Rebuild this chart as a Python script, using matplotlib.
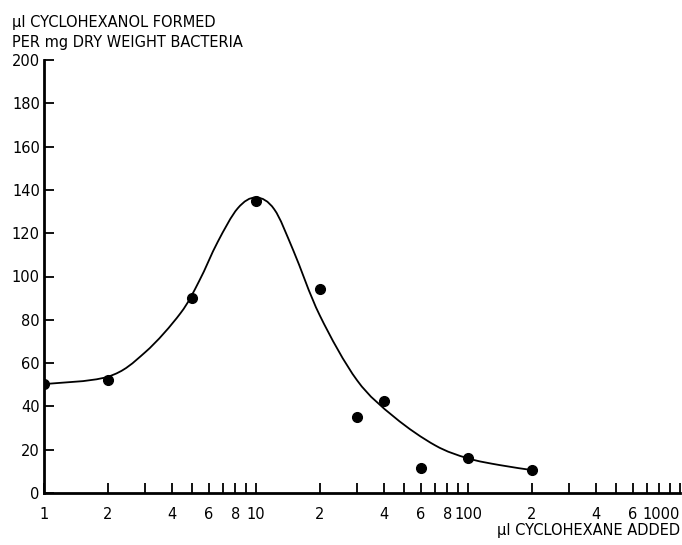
import matplotlib
matplotlib.use("Agg")
import numpy as np
import matplotlib.pyplot as plt
from matplotlib.path import Path
from matplotlib.patches import PathPatch
from matplotlib.ticker import FixedLocator, FixedFormatter, NullLocator

# measured data points
pts_x = [1, 2, 5, 10, 20, 30, 40, 60, 100, 200]
pts_y = [50.3, 52, 90.2, 135, 94, 35.2, 42.3, 11.4, 16, 10.6]

# knots of the hand-drawn smooth curve
curve_x = [1, 2, 3, 4.4, 5.4, 6.6, 8.2, 10, 12.2, 15, 20, 30, 45, 70, 100, 141, 200]
curve_y = [50.3, 53.7, 65, 83, 98, 116, 131.5, 136.5, 131, 112, 82, 52, 35, 22, 16, 12.9, 10.6]

xtick_pos = [1, 2, 4, 6, 8, 10, 20, 40, 60, 80, 100, 200, 400, 600, 1000]
xtick_lab = ["1", "2", "4", "6", "8", "10", "2", "4", "6", "8", "100", "2", "4", "6", "1000"]
xtick_all = [1, 2, 3, 4, 5, 6, 7, 8, 9, 10, 20, 30, 40, 50, 60, 70, 80, 90, 100,
             200, 300, 400, 500, 600, 700, 800, 900, 1000]
yticks = [0, 20, 40, 60, 80, 100, 120, 140, 160, 180, 200]

plt.rcParams['font.family'] = ['DejaVu Sans']
fig = plt.figure(figsize=(6.82, 5.45), dpi=100)
ax = fig.add_axes([44/682, 1 - 493/545, (680 - 44)/682, (493 - 60)/545])

ax.set_xscale('log')
ax.set_xlim(1, 1000)
ax.set_ylim(0, 200)

# smooth curve: Catmull-Rom knots rendered as cubic Bezier path (log-x space)
P = np.column_stack([np.log10(np.array(curve_x, dtype=float)), np.array(curve_y, dtype=float)])
Pe = np.vstack([P[0], P, P[-1]])
verts = [tuple(P[0])]
codes = [Path.MOVETO]
for i in range(len(P) - 1):
    p0, p1, p2, p3 = Pe[i], Pe[i + 1], Pe[i + 2], Pe[i + 3]
    c1 = p1 + (p2 - p0) / 6.0
    c2 = p2 - (p3 - p1) / 6.0
    verts += [tuple(c1), tuple(c2), tuple(p2)]
    codes += [Path.CURVE4] * 3
verts = [(10 ** vx, vy) for vx, vy in verts]
ax.add_patch(PathPatch(Path(verts, codes), facecolor='none', edgecolor='black', lw=1.3, zorder=2))

ax.plot(pts_x, pts_y, 'o', color='black', markersize=7, zorder=3)

ax.spines['top'].set_visible(False)
ax.spines['right'].set_visible(False)
ax.spines['left'].set_linewidth(2)
ax.spines['bottom'].set_linewidth(2)

ax.xaxis.set_major_locator(FixedLocator(xtick_all))
labels_all = [xtick_lab[xtick_pos.index(v)] if v in xtick_pos else "" for v in xtick_all]
ax.xaxis.set_major_formatter(FixedFormatter(labels_all))
ax.xaxis.set_minor_locator(NullLocator())
ax.set_yticks(yticks)
ax.set_yticklabels([str(v) for v in yticks])

ax.tick_params(axis='x', direction='in', length=7, width=1.3, labelsize=10.5, pad=10)
ax.tick_params(axis='y', direction='in', length=7, width=1.3, labelsize=10.5, pad=3)
for t in ax.get_xticklabels():
    if t.get_text() == "1000":
        t.set_horizontalalignment('right')

fig.text(12/682, 1 - 22/545, "µl CYCLOHEXANOL FORMED", fontsize=10.5, va='center', ha='left')
fig.text(12/682, 1 - 42/545, "PER mg DRY WEIGHT BACTERIA", fontsize=10.5, va='center', ha='left')
fig.text(680/682, 1 - 530/545, "µl CYCLOHEXANE ADDED", fontsize=10.5, va='center', ha='right')

fig.savefig("out.png", dpi=100, facecolor='white')
